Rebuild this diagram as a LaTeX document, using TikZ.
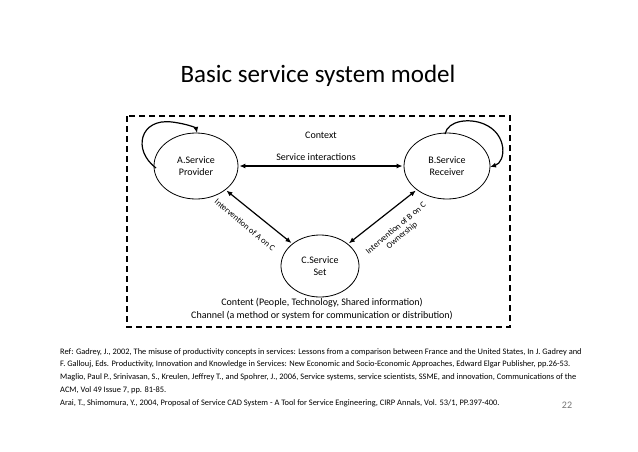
\documentclass[tikz,border=0pt]{standalone}
\usepackage{fontspec}
\setmainfont{Carlito}
\usetikzlibrary{positioning, calc, arrows.meta, shapes.geometric}

\begin{document}
\begin{tikzpicture}[x=1pt,y=-1pt,
    agent/.style={draw, ellipse, line width=0.8pt, minimum width=84pt, minimum height=66pt, align=center, inner sep=0pt, font=\fontsize{10}{12}\selectfont},
    link/.style={{Latex[length=6pt,width=5pt]}-{Latex[length=6pt,width=5pt]}, line width=1.2pt, shorten <=1pt, shorten >=1pt},
    loop/.style={-{Latex[length=6pt,width=5pt]}, line width=1.2pt},
    lbl/.style={font=\fontsize{10}{11}\selectfont, align=center},
    slant/.style={font=\fontsize{8.5}{9}\selectfont, align=center, inner sep=0pt},
    ref/.style={font=\fontsize{8.4}{12.9}\selectfont, anchor=north west, align=left, inner sep=0pt}]
    \useasboundingbox (0,0) rectangle (638,451);
    % title
    \node (title) at (318,76) {\fontsize{25}{28}\selectfont Basic service system model};
    % frame
    \draw[dashed, line width=1.4pt, dash pattern=on 6pt off 4pt] (127,116) rectangle (510,327);
    % actors
    \node[agent] (A) at (196,166) {A.Service\\Provider};
    \node[agent, minimum width=86pt] (B) at (447,166) {B.Service\\Receiver};
    \node[agent, minimum width=78pt, minimum height=62pt] (C) at (320,266) {C.Service\\Set};
    \node[lbl] (ctx) at (321,135) {Context};
    \node[lbl] (si) at (316,157) {Service interactions};
    % connectors
    \draw[link] (A) -- (B);
    \draw[link] (A) -- (C);
    \draw[link] (C) -- (B);
    \node[slant, rotate=-40] (ac) at (245,225) {Intervention of A on C};
    \node[slant, rotate=40] (bc) at (399,232) {Intervention of B on C\\Ownership};
    % self loops
    \draw[loop] (156,168) .. controls (132,150) and (140,118) .. (172,122) .. controls (188,124) and (196,128) .. (197,133);
    \draw[loop] (445,134) .. controls (448,120) and (470,118) .. (484,124) .. controls (508,134) and (506,162) .. (490,167);
    % content and channel
    \node[lbl] (content) at (322,303) {Content (People, Technology, Shared information)};
    \node[lbl] (channel) at (322,316) {Channel (a method or system for communication or distribution)};
    % references
    \node[ref] (refs) at (60,348) {Ref: Gadrey, J., 2002, The misuse of productivity concepts in services: Lessons from a comparison between France and the United States, In J. Gadrey and\\
    F. Gallouj, Eds. Productivity, Innovation and Knowledge in Services: New Economic and Socio-Economic Approaches, Edward Elgar Publisher, pp.26-53.\\
    Maglio, Paul P., Srinivasan, S., Kreulen, Jeffrey T., and Spohrer, J., 2006, Service systems, service scientists, SSME, and innovation, Communications of the\\
    ACM, Vol 49 Issue 7, pp. 81-85.\\
    Arai, T., Shimomura, Y., 2004, Proposal of Service CAD System - A Tool for Service Engineering, CIRP Annals, Vol. 53/1, PP.397-400.};
    \node[font=\fontsize{10}{11}\selectfont, text=black!55] (page) at (567,405) {22};
\end{tikzpicture}
\end{document}
